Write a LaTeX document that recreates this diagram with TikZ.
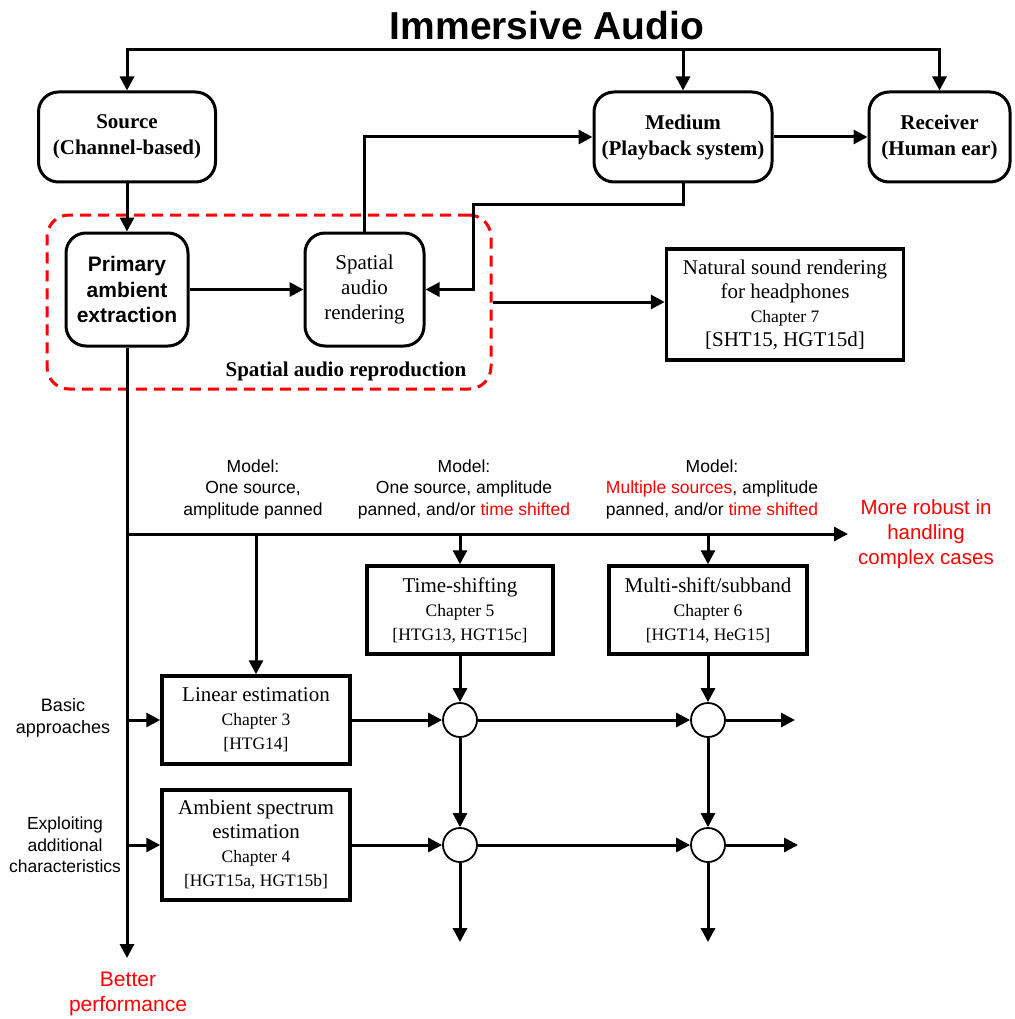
\documentclass[tikz,border=0pt]{standalone}
\usepackage{fontspec}
\setmainfont{Liberation Serif}
\setsansfont{Liberation Sans}
\usetikzlibrary{arrows.meta}
\definecolor{hired}{RGB}{255,0,0}
\newcommand{\bigsize}{\fontsize{21}{24}\selectfont}
\newcommand{\refsize}{\fontsize{17.5}{23.5}\selectfont}

\begin{document}
\begin{tikzpicture}[x=1pt,y=-1pt,
		roundbox/.style={rectangle, rounded corners=20pt, draw, line width=3pt, inner sep=0pt, align=center},
		chapbox/.style={rectangle, draw, line width=3.5pt, inner sep=0pt, align=center, font=\bigsize},
		sumnode/.style={circle, draw, line width=1.8pt, minimum size=34pt, inner sep=0pt},
		arr/.style={line width=3pt, -{Triangle[length=14pt,width=14pt]}},
		note/.style={align=center, font=\sffamily\fontsize{17.5}{21.5}\selectfont},
		hinote/.style={align=center, text=hired, font=\sffamily\fontsize{20.5}{25}\selectfont}]

	\useasboundingbox (0,0) rectangle (1014,1019);

	\node[font=\sffamily\bfseries\fontsize{39}{44}\selectfont] (title) at (547,26) {Immersive Audio};

	\node[roundbox, minimum width=177pt, minimum height=90pt, font=\bfseries\fontsize{21}{26}\selectfont] (source) at (127,137) {Source\\(Channel-based)};
	\node[roundbox, minimum width=178pt, minimum height=90pt, font=\bfseries\fontsize{21}{26}\selectfont] (medium) at (683,137) {Medium\\(Playback system)};
	\node[roundbox, minimum width=141pt, minimum height=90pt, font=\bfseries\fontsize{21}{26}\selectfont] (receiver) at (939.5,137) {Receiver\\(Human ear)};

	\node[roundbox, minimum width=122pt, minimum height=113pt, font=\sffamily\bfseries\fontsize{21}{25.5}\selectfont] (pae) at (127,289.5) {Primary\\ambient\\extraction};
	\node[roundbox, minimum width=119pt, minimum height=113pt, font=\fontsize{21}{25}\selectfont] (sar) at (364.5,289.5) {Spatial\\audio\\rendering};
	\node[rectangle, draw=hired, line width=3pt, dash pattern=on 11pt off 7pt, rounded corners=22pt, minimum width=444pt, minimum height=174pt] (repro) at (269,302) {};
	\node[font=\bfseries\fontsize{21}{24}\selectfont] (reprolabel) at (346,371) {Spatial audio reproduction};

	\node[chapbox, minimum width=237pt, minimum height=111pt] (natural) at (785,304.5) {Natural sound rendering\\for headphones\\{\refsize Chapter 7}\\{[SHT15, HGT15d]}};

	\node[chapbox, minimum width=186pt, minimum height=88pt] (time) at (460,610) {Time-shifting\\{\refsize Chapter 5}\\{\refsize [HTG13, HGT15c]}};
	\node[chapbox, minimum width=198pt, minimum height=88pt] (multi) at (708,610) {Multi-shift/subband\\{\refsize Chapter 6}\\{\refsize [HGT14, HeG15]}};
	\node[chapbox, minimum width=188pt, minimum height=88pt] (linear) at (256,720) {Linear estimation\\{\refsize Chapter 3}\\{\refsize [HTG14]}};
	\node[chapbox, minimum width=188pt, minimum height=110pt] (ambient) at (256,845) {Ambient spectrum\\estimation\\{\refsize Chapter 4}\\{\refsize [HGT15a, HGT15b]}};

	\node[sumnode] (s11) at (460,720) {};
	\node[sumnode] (s12) at (708,720) {};
	\node[sumnode] (s21) at (460,845) {};
	\node[sumnode] (s22) at (708,845) {};

	\node[note] (model1) at (253,489) {Model:\\One source,\\amplitude panned};
	\node[note] (model2) at (464,489) {Model:\\One source, amplitude\\panned, and/or \textcolor{hired}{time shifted}};
	\node[note] (model3) at (712,489) {Model:\\\textcolor{hired}{Multiple sources}, amplitude\\panned, and/or \textcolor{hired}{time shifted}};
	\node[hinote] (robusttext) at (926,534) {More robust in\\handling\\complex cases};
	\node[hinote, font=\sffamily\fontsize{21}{25}\selectfont] (better) at (128,994) {Better\\performance};
	\node[note, font=\sffamily\fontsize{18}{22}\selectfont] (basic) at (63,718) {Basic\\approaches};
	\node[note] (exploit) at (65,845) {Exploiting\\additional\\characteristics};

	\coordinate (bus) at (683,50);
	\coordinate (fb) at (473,204);
	\coordinate (split) at (127,534);
	\coordinate (robust) at (848,534);
	\coordinate (perf) at (127,958);
	\coordinate (out1) at (795,720);
	\coordinate (out2) at (798,845);
	\coordinate (down1) at (460,942);
	\coordinate (down2) at (708,942);

	\draw[arr] (bus) -| (source.north);
	\draw[arr] (bus) -| (receiver.north);
	\draw[arr] (bus) -- (medium.north);
	\draw[arr] (source) -- (pae);
	\draw[arr] (pae) -- (sar);
	\draw[arr] (sar.north) |- (medium.west);
	\draw[arr] (medium.south) |- (fb) |- (sar.east);
	\draw[arr] (medium) -- (receiver);
	\draw[arr] (repro.east) -- (repro.east -| natural.west);

	\draw[arr] (pae.south) -- (perf);
	\draw[arr] (split) -- (robust);
	\foreach \b in {linear,time,multi}
		\draw[arr] (split -| \b.north) -- (\b.north);
	\draw[arr] (split |- linear.west) -- (linear.west);
	\draw[arr] (split |- ambient.west) -- (ambient.west);

	\draw[arr] (time) -- (s11);
	\draw[arr] (multi) -- (s12);
	\draw[arr] (linear) -- (s11);
	\draw[arr] (s11) -- (s12);
	\draw[arr] (s12) -- (out1);
	\draw[arr] (ambient) -- (s21);
	\draw[arr] (s21) -- (s22);
	\draw[arr] (s22) -- (out2);
	\draw[arr] (s11) -- (s21);
	\draw[arr] (s12) -- (s22);
	\draw[arr] (s21) -- (down1);
	\draw[arr] (s22) -- (down2);
\end{tikzpicture}
\end{document}
